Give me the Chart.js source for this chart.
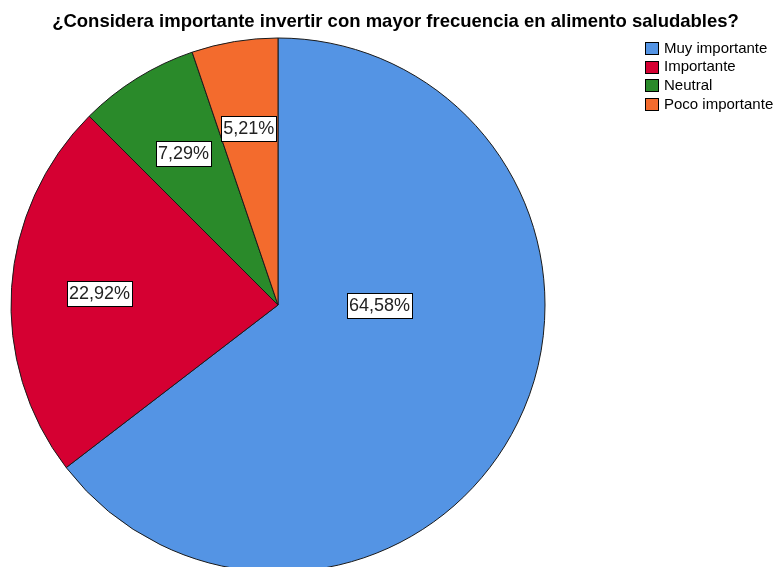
<!DOCTYPE html>
<html lang="es">
<head>
    <meta charset="UTF-8">
    <title>Inversión en alimentos saludables</title>
    <script src="https://cdn.jsdelivr.net/npm/chart.js@4.4.1/dist/chart.umd.min.js"></script>
    <style>
        body {
            margin: 0;
            background: #fff;
        }
        #wrap {
            width: 776px;
            height: 567px;
            overflow: hidden;
        }
    </style>
</head>
<body>
    <div id="wrap">
        <canvas id="pieChart" width="776" height="620"></canvas>
    </div>

    <script>
        const title = "¿Considera importante invertir con mayor frecuencia en alimento saludables?";
        const categories = ["Muy importante", "Importante", "Neutral", "Poco importante"];
        const percentages = [64.58, 22.92, 7.29, 5.21];
        const colors = ["#5494E4", "#D50032", "#2A8A2A", "#F36B2D"];

        const FONT = '"Liberation Sans", Arial, sans-serif';

        // the big slice keeps its label near the middle, on the horizontal
        const labelPlacement = [{ angle: 0, dist: 0.38 }, null, null, null];

        const fmt = v => v.toFixed(2).replace(".", ",") + "%";

        const decorations = {
            id: "decorations",
            afterDraw(chart) {
                const ctx = chart.ctx;
                ctx.save();

                // title
                ctx.fillStyle = "#000";
                ctx.font = "bold 18.5px " + FONT;
                ctx.textAlign = "center";
                ctx.textBaseline = "middle";
                ctx.fillText(title, 395.5, 22);

                // slice labels in white boxes
                const meta = chart.getDatasetMeta(0);
                ctx.font = "18px " + FONT;
                meta.data.forEach((arc, i) => {
                    const p = arc.getProps(["x", "y", "startAngle", "endAngle", "outerRadius"], true);
                    const place = labelPlacement[i];
                    const mid = place ? place.angle : (p.startAngle + p.endAngle) / 2;
                    const d = p.outerRadius * (place ? place.dist : 0.67);
                    const x = p.x + Math.cos(mid) * d;
                    const y = p.y + Math.sin(mid) * d;
                    const text = fmt(percentages[i]);
                    const w = ctx.measureText(text).width + 4;
                    const h = 25;
                    const bx = Math.round(x - w / 2) + 0.5;
                    const by = Math.round(y - h / 2) + 0.5;
                    ctx.fillStyle = "#fff";
                    ctx.fillRect(bx, by, Math.round(w), h);
                    ctx.strokeStyle = "#000";
                    ctx.lineWidth = 1;
                    ctx.strokeRect(bx, by, Math.round(w), h);
                    ctx.fillStyle = "#222";
                    ctx.fillText(text, x, y + 1);
                });

                // legend, top right
                ctx.font = "15px " + FONT;
                ctx.textAlign = "left";
                categories.forEach((c, i) => {
                    const y = 42 + i * 18.7;
                    ctx.fillStyle = colors[i];
                    ctx.fillRect(645.5, Math.round(y) + 0.5, 13, 12);
                    ctx.strokeStyle = "#000";
                    ctx.strokeRect(645.5, Math.round(y) + 0.5, 13, 12);
                    ctx.fillStyle = "#000";
                    ctx.fillText(c, 664, y + 6.5);
                });

                ctx.restore();
            }
        };

        new Chart(document.getElementById("pieChart"), {
            type: "pie",
            data: {
                labels: categories,
                datasets: [{
                    data: percentages,
                    backgroundColor: colors,
                    borderColor: "#1a1a1a",
                    borderWidth: 1
                }]
            },
            options: {
                responsive: false,
                animation: false,
                layout: {
                    padding: { left: 10.5, right: 230.5, top: 37.5, bottom: 47.5 }
                },
                plugins: {
                    legend: { display: false },
                    title: { display: false },
                    tooltip: { enabled: false }
                }
            },
            plugins: [decorations]
        });
    </script>
</body>
</html>
